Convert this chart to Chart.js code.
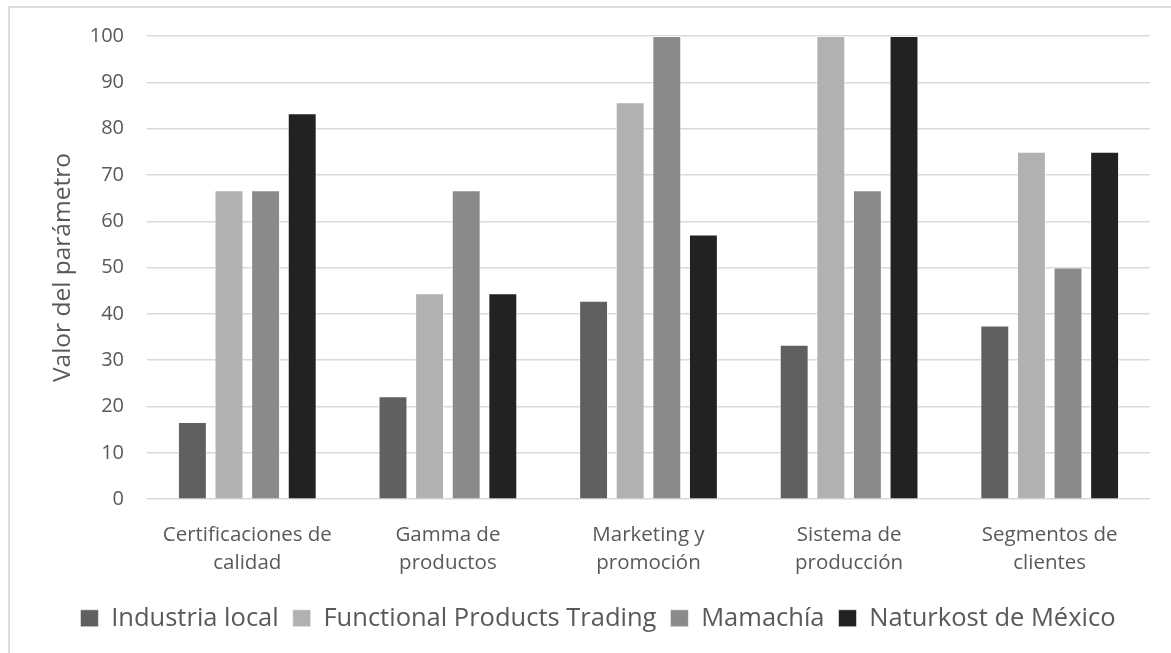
<!DOCTYPE html>
<html>
<head>
<meta charset="utf-8">
<script src="https://cdn.jsdelivr.net/npm/chart.js@4/dist/chart.umd.min.js"></script>
<style>
  html, body { margin: 0; padding: 0; background: #fff; }
  #wrap { position: relative; width: 1171px; height: 653px; }
  #frame { position: absolute; left: 8px; top: 6px; right: 0; bottom: 0;
           border-top: 2px solid #dcdcdc; border-left: 2px solid #dcdcdc; pointer-events: none; }
  canvas { position: absolute; left: 0; top: 0; }
</style>
</head>
<body>
<div id="wrap">
  <canvas id="c" width="1171" height="653"></canvas>
  <div id="frame"></div>
</div>
<script>
const categories = [
  ["Certificaciones de", "calidad"],
  ["Gamma de", "productos"],
  ["Marketing y", "promoción"],
  ["Sistema de", "producción"],
  ["Segmentos de", "clientes"]
];
const seriesNames = ["Industria local", "Functional Products Trading", "Mamachía", "Naturkost de México"];
const industriaLocal = [16.67, 22.22, 42.86, 33.33, 37.5];
const functionalProducts = [66.67, 44.44, 85.71, 100, 75];
const mamachia = [66.67, 66.67, 100, 66.67, 50];
const naturkost = [83.33, 44.44, 57.14, 100, 75];
const seriesColors = ["#606060", "#b1b1b1", "#8a8a8a", "#222222"];
const yAxisTitle = "Valor del parámetro";

const FONT = "'Open Sans', 'DejaVu Sans', sans-serif";
const TEXT = "#595959";

const seriesData = [industriaLocal, functionalProducts, mamachia, naturkost];

new Chart(document.getElementById('c'), {
  type: 'bar',
  data: {
    labels: categories,
    datasets: seriesNames.map((name, i) => ({
      label: name,
      data: seriesData[i],
      backgroundColor: seriesColors[i],
      borderColor: 'rgba(255,255,255,0.55)',
      borderWidth: 1,
      categoryPercentage: 0.73,
      barPercentage: 0.79
    }))
  },
  options: {
    responsive: false,
    animation: false,
    devicePixelRatio: 1,
    layout: { padding: { top: 36, right: 21, left: 46, bottom: 12 } },
    plugins: {
      tooltip: { enabled: false },
      legend: {
        position: 'bottom',
        labels: {
          font: { family: FONT, size: 25.5 },
          color: TEXT,
          boxWidth: 18,
          boxHeight: 17,
          padding: 14
        }
      }
    },
    scales: {
      x: {
        grid: { display: false },
        border: { display: false },
        ticks: {
          font: { family: FONT, size: 20.5, lineHeight: 1.35 },
          color: TEXT,
          padding: 14.5,
          maxRotation: 0
        }
      },
      y: {
        min: 0,
        max: 100,
        afterFit: (scale) => { scale.width = 101; },
        grid: { color: '#d9d9d9', lineWidth: 1.5, drawTicks: false },
        border: { display: false },
        ticks: {
          stepSize: 10,
          font: { family: FONT, size: 20 },
          color: TEXT,
          padding: 23
        },
        title: {
          display: true,
          text: yAxisTitle,
          font: { family: FONT, size: 24.5 },
          color: TEXT,
          padding: { top: 2, bottom: 0 }
        }
      }
    }
  }
});
</script>
</body>
</html>
